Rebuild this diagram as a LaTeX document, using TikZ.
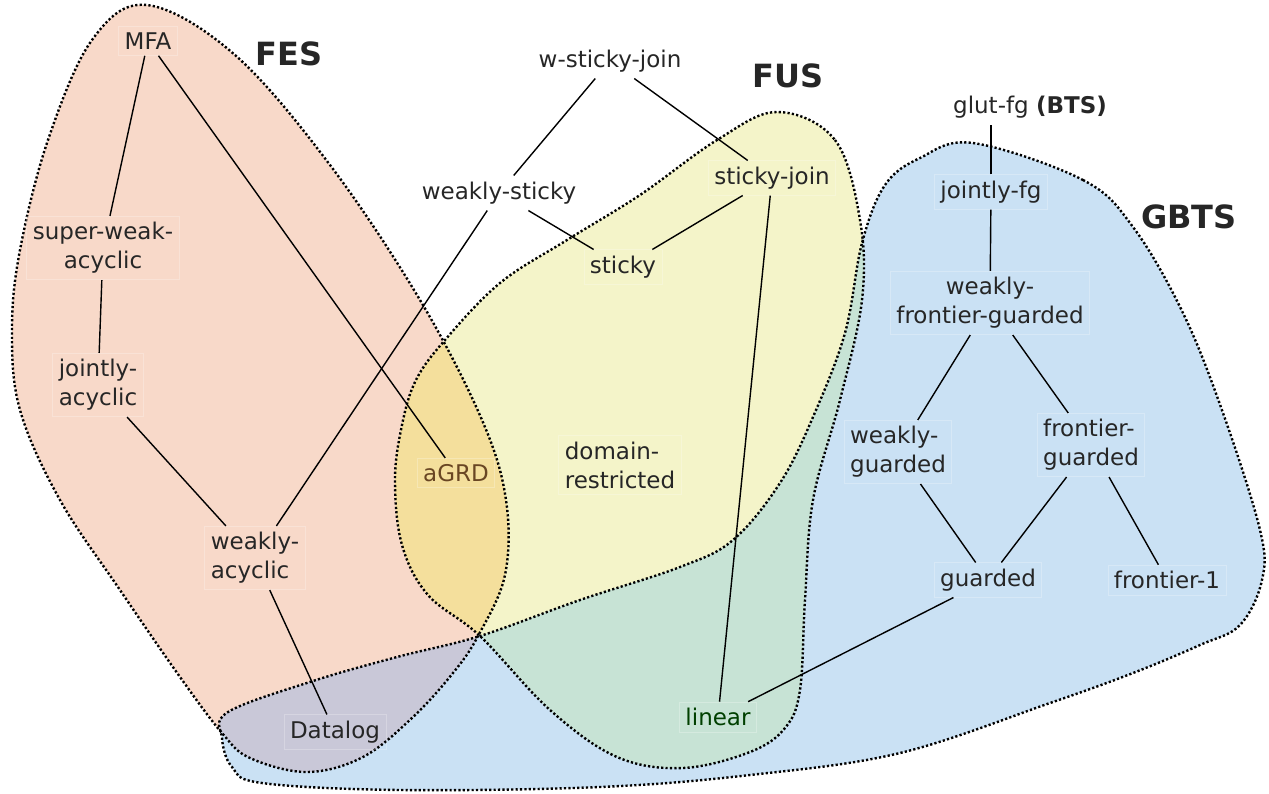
\documentclass[tikz,border=0pt]{standalone}
\usepackage{fontspec}
\setmainfont{DejaVu Sans}
\definecolor{fescol}{HTML}{F8D9C9}
\definecolor{fuscol}{HTML}{F4F4C9}
\definecolor{gbtscol}{HTML}{CAE1F4}
\definecolor{fesfus}{HTML}{F4DF9C}
\definecolor{fusgbts}{HTML}{C7E3D5}
\definecolor{fesgbts}{HTML}{C9C8D8}
\begin{document}
\begin{tikzpicture}[x=0.5pt,y=-0.5pt,
    cls/.style={inner sep=3pt, draw=white, draw opacity=0.25, line width=0.4pt,
      text=black!85, font=\fontsize{11.5}{14.5}\selectfont},
    title/.style={font=\fontsize{16}{19}\selectfont\bfseries, text=black!85},
    edge/.style={line width=0.7pt},
    border/.style={line width=1.2pt, dash pattern=on 1.1pt off 1.1pt}]
  \useasboundingbox (0,0) rectangle (1269,793);

  % the three classes
  \def\fesblob{plot[smooth cycle, tension=0.6] coordinates {(147,5) (235,55) (330,165)
    (420,300) (482,420) (506,500) (505,575) (478,636) (453,673) (413,717) (363,757)
    (307,772) (250,758) (222,733) (180,677) (120,590) (60,500) (20,410) (12,330)
    (20,250) (48,140) (92,40)}}
  \def\fusblob{plot[smooth cycle, tension=0.6] coordinates {(777,112) (835,140) (860,220)
    (862,300) (840,400) (813,500) (805,600) (800,690) (785,728) (750,752) (683,768)
    (617,757) (550,710) (480,636) (428,595) (402,545) (395,480) (402,425) (416,380)
    (445,340) (500,283) (567,240) (640,195) (717,140)}}
  \def\gbtsblob{plot[smooth cycle, tension=0.6] coordinates {(973,143) (1083,180) (1133,227)
    (1183,313) (1223,413) (1260,530) (1262,580) (1240,625) (1200,645) (1133,673)
    (1050,703) (900,753) (750,775) (600,787) (400,790) (262,783) (232,767) (222,738)
    (228,712) (313,681) (397,657) (480,636) (580,600) (680,567) (733,540) (780,483)
    (813,417) (845,333) (862,243) (885,185) (920,158)}}

  \fill[fescol] \fesblob;
  \fill[fuscol] \fusblob;
  \fill[gbtscol] \gbtsblob;

  % overlaps
  \begin{scope}
    \clip \fesblob;
    \fill[fesfus] \fusblob;
    \fill[fesgbts] \gbtsblob;
  \end{scope}
  \begin{scope}
    \clip \fusblob;
    \fill[fusgbts] \gbtsblob;
  \end{scope}

  \draw[border] \fesblob;
  \draw[border] \fusblob;
  \draw[border] \gbtsblob;

  % titles
  \node[title] (fes) at (289,54) {FES};
  \node[title] (fus) at (788,76) {FUS};
  \node[title] (gbts) at (1189,217) {GBTS};

  % FES side
  \node[cls] (mfa) at (148,41) {MFA};
  \node[cls, align=center] (swa) at (103,248) {super-weak-\\acyclic};
  \node[cls, align=center] (ja) at (98,385) {jointly-\\acyclic};
  \node[cls, align=left] (wa) at (255,558) {weakly-\\acyclic};
  \node[cls] (datalog) at (335,732) {Datalog};
  \node[cls, text=brown!55!black] (agrd) at (456,473) {aGRD};

  % FUS side
  \node[cls, align=left] (dr) at (620,465) {domain-\\restricted};
  \node[cls] (wsj) at (610,61) {w-sticky-join};
  \node[cls] (ws) at (499,193) {weakly-sticky};
  \node[cls] (sticky) at (623,267) {sticky};
  \node[cls] (sj) at (772,178) {sticky-join};
  \node[cls, text=green!25!black] (linear) at (718,717) {linear};

  % GBTS side
  \node[cls] (glut) at (1030,107) {glut-fg \textbf{(BTS)}};
  \node[cls] (jfg) at (991,192) {jointly-fg};
  \node[cls, align=center] (wfg) at (990,303) {weakly-\\frontier-guarded};
  \node[cls, align=left] (wg) at (898,452) {weakly-\\guarded};
  \node[cls, align=left] (fg) at (1091,445) {frontier-\\guarded};
  \node[cls] (guarded) at (988,580) {guarded};
  \node[cls] (f1) at (1167,580) {frontier-1};

  % hierarchy
  \draw[edge] (mfa) -- (swa);
  \draw[edge] (mfa) -- (agrd);
  \draw[edge] (swa) -- (ja);
  \draw[edge] (ja) -- (wa);
  \draw[edge] (wa) -- (datalog);
  \draw[edge] (wa) -- (ws);
  \draw[edge] (wsj) -- (ws);
  \draw[edge] (wsj) -- (sj);
  \draw[edge] (ws) -- (sticky);
  \draw[edge] (sj) -- (sticky);
  \draw[edge] (sj) -- (linear);
  \draw[edge] (jfg.north) -- (jfg.north |- glut.south);
  \draw[edge] (jfg) -- (wfg);
  \draw[edge] (wfg) -- (wg);
  \draw[edge] (wfg) -- (fg);
  \draw[edge] (wg) -- (guarded);
  \draw[edge] (fg) -- (guarded);
  \draw[edge] (fg) -- (f1);
  \draw[edge] (guarded) -- (linear);
\end{tikzpicture}
\end{document}
